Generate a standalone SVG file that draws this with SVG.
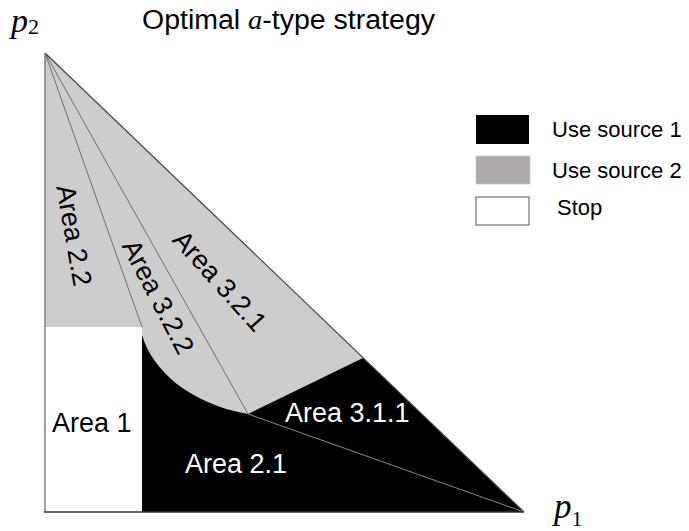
<svg xmlns="http://www.w3.org/2000/svg" width="689" height="531" viewBox="0 0 689 531">
  <style>
    .lbl { font-family: "Liberation Sans", Arial, sans-serif; font-size: 27px; }
    .leg { font-family: "Liberation Sans", Arial, sans-serif; font-size: 22px; fill: #000; }
    .math { font-family: "Liberation Serif", "Times New Roman", serif; font-style: italic; }
    .ray { stroke: #555; stroke-width: 0.8; fill: none; }
  </style>
  <rect width="689" height="531" fill="#fff"/>

  <!-- axis labels and title -->
  <text class="math" x="11" y="32" font-size="34">p<tspan font-style="normal" font-size="22" dy="2">2</tspan></text>
  <text class="math" x="554" y="518" font-size="35">p<tspan font-style="normal" font-size="22" dy="8">1</tspan></text>
  <text x="142" y="29" font-family="Liberation Sans, Arial, sans-serif" font-size="27" textLength="293" lengthAdjust="spacingAndGlyphs">Optimal <tspan class="math">a</tspan>-type strategy</text>

  <!-- regions -->
  <g id="area-source2">
    <polygon points="45,53 524,512 45,512" fill="#cdcdcd"/>
  </g>
  <g id="area-1">
    <rect x="45" y="327" width="97" height="185" fill="#fff"/>
  </g>
  <g id="area-source1">
    <path d="M142,335 C152,370 190,404 248,414 L363,358 L524,512 L142,512 Z" fill="#000"/>
  </g>

  <!-- boundary lines -->
  <g id="connectors">
    <line class="ray" x1="45" y1="53" x2="142" y2="327"/>
    <line class="ray" x1="45" y1="53" x2="248" y2="414"/>
    <line x1="248" y1="414" x2="524" y2="512" stroke="#9a9a9a" stroke-width="0.9"/>
    <line x1="45" y1="53" x2="524" y2="512" stroke="#444" stroke-width="1.2"/>
    <line x1="45" y1="53" x2="45" y2="512" stroke="#888" stroke-width="1.6"/>
    <line x1="44" y1="512" x2="524" y2="512" stroke="#333" stroke-width="1.4"/>
  </g>

  <!-- area labels -->
  <g id="label-area-2-2"><text class="lbl" text-anchor="middle" transform="translate(65,237) rotate(80)">Area 2.2</text></g>
  <g id="label-area-3-2-2"><text class="lbl" text-anchor="middle" transform="translate(150,301) rotate(62.5)">Area 3.2.2</text></g>
  <g id="label-area-3-2-1"><text class="lbl" text-anchor="middle" transform="translate(213,287) rotate(48)">Area 3.2.1</text></g>
  <g id="label-area-1"><text class="lbl" x="52" y="432">Area 1</text></g>
  <g id="label-area-2-1"><text class="lbl" x="185" y="473" fill="#fff">Area 2.1</text></g>
  <g id="label-area-3-1-1"><text class="lbl" x="285" y="422" fill="#fff">Area 3.1.1</text></g>

  <!-- legend -->
  <g id="legend">
    <rect x="476" y="115" width="53" height="29" fill="#000"/>
    <rect x="476" y="156" width="54" height="28" fill="#aeaaaa" stroke="#c8c6c6" stroke-width="0.8"/>
    <rect x="476" y="197" width="53" height="28" fill="#fff" stroke="#555" stroke-width="1"/>
    <text class="leg" x="552" y="137">Use source 1</text>
    <text class="leg" x="552" y="178">Use source 2</text>
    <text class="leg" x="557" y="215">Stop</text>
  </g>
</svg>
